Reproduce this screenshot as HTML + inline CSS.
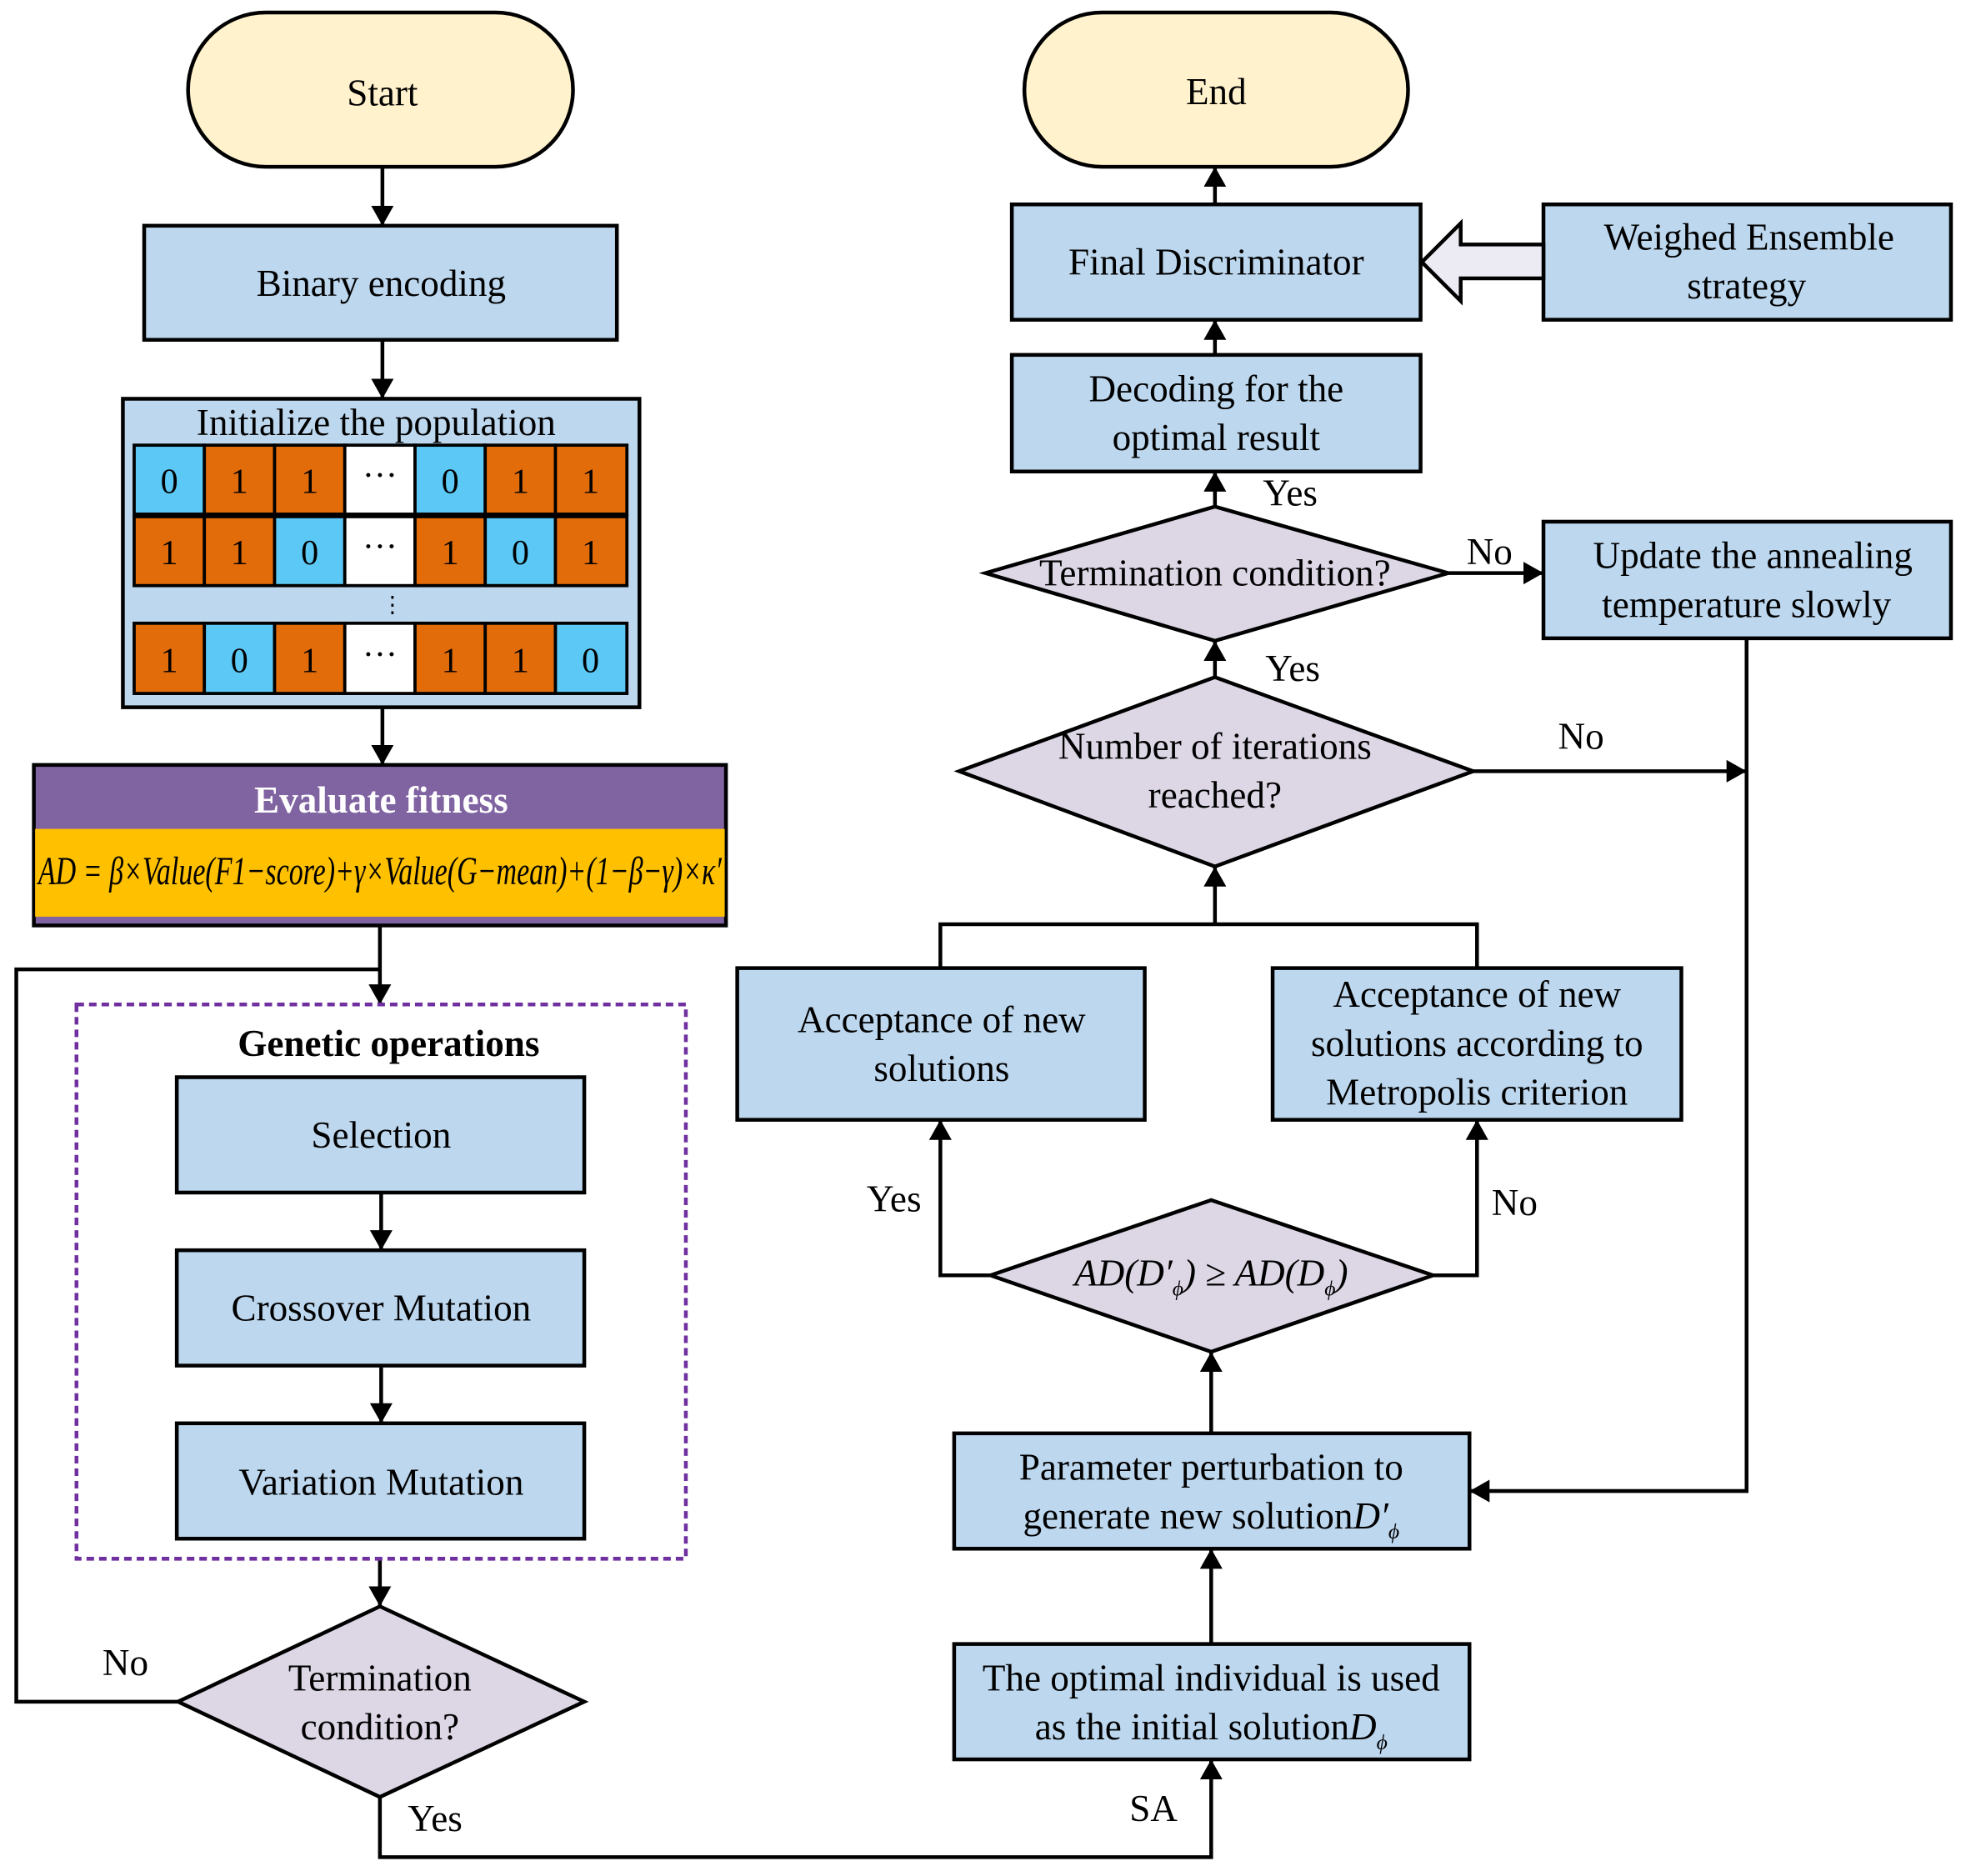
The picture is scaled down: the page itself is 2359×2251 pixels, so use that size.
<!DOCTYPE html>
<html><head><meta charset="utf-8"><style>
html,body{margin:0;padding:0;background:#fff}
svg{display:block}
text{font-family:"Liberation Serif",serif;fill:#000}
</style></head><body>
<svg width="2359" height="2251" viewBox="0 0 1568 1496" preserveAspectRatio="none" xmlns="http://www.w3.org/2000/svg">
<defs>
<marker id="b" markerWidth="16" markerHeight="18" refX="16" refY="9" orient="auto" markerUnits="userSpaceOnUse"><path d="M0,0 L16,9 L0,18 z" fill="#000"/></marker>
</defs>
<g stroke="#000" stroke-width="3" fill="none">
<line x1="305" y1="133" x2="305" y2="180" marker-end="url(#b)"/>
<line x1="305" y1="271" x2="305" y2="318" marker-end="url(#b)"/>
<line x1="305" y1="564" x2="305" y2="610" marker-end="url(#b)"/>
<line x1="303" y1="738" x2="303" y2="801" marker-end="url(#b)"/>
<polyline points="142,1357 13,1357 13,773 303,773"/>
<line x1="304" y1="951" x2="304" y2="997" marker-end="url(#b)"/>
<line x1="304" y1="1089" x2="304" y2="1135" marker-end="url(#b)"/>
<line x1="303" y1="1243" x2="303" y2="1281" marker-end="url(#b)"/>
<polyline points="303,1433 303,1481 966,1481 966,1403" marker-end="url(#b)"/>
<line x1="966" y1="1311" x2="966" y2="1235" marker-end="url(#b)"/>
<line x1="966" y1="1143" x2="966" y2="1078" marker-end="url(#b)"/>
<polyline points="790,1017 750,1017 750,893" marker-end="url(#b)"/>
<polyline points="1143,1017 1178,1017 1178,893" marker-end="url(#b)"/>
<polyline points="750,772 750,737 1178,737 1178,772"/>
<line x1="969" y1="737" x2="969" y2="691" marker-end="url(#b)"/>
<line x1="1175" y1="615" x2="1393" y2="615" marker-end="url(#b)"/>
<polyline points="1393,509 1393,1189 1172,1189" marker-end="url(#b)"/>
<line x1="969" y1="540" x2="969" y2="511" marker-end="url(#b)"/>
<line x1="1155" y1="457" x2="1231" y2="457" marker-end="url(#b)"/>
<line x1="969" y1="404" x2="969" y2="376" marker-end="url(#b)"/>
<line x1="969" y1="283" x2="969" y2="255" marker-end="url(#b)"/>
<line x1="969" y1="163" x2="969" y2="133" marker-end="url(#b)"/>
</g>
<g stroke="#000" stroke-width="3">
<rect x="150" y="10" width="307" height="123" rx="62" fill="#fff2cc"/>
<rect x="817" y="10" width="306" height="123" rx="62" fill="#fff2cc"/>
<rect x="115" y="180" width="377" height="91" fill="#bdd7ee"/>
<rect x="98" y="318" width="412" height="246" fill="#bdd7ee"/>
<rect x="27" y="610" width="552" height="128" fill="#8064a2"/>
<rect x="141" y="859" width="325" height="92" fill="#bdd7ee"/>
<rect x="141" y="997" width="325" height="92" fill="#bdd7ee"/>
<rect x="141" y="1135" width="325" height="92" fill="#bdd7ee"/>
<polygon points="142,1357 303,1281 466,1357 303,1433" fill="#dcd6e5"/>
<rect x="761" y="1311" width="411" height="92" fill="#bdd7ee"/>
<rect x="761" y="1143" width="411" height="92" fill="#bdd7ee"/>
<polygon points="790,1017 966,957 1143,1017 966,1078" fill="#dcd6e5"/>
<rect x="588" y="772" width="325" height="121" fill="#bdd7ee"/>
<rect x="1015" y="772" width="326" height="121" fill="#bdd7ee"/>
<polygon points="765,615 969,540 1175,615 969,691" fill="#dcd6e5"/>
<polygon points="786,457 969,404 1155,457 969,511" fill="#dcd6e5"/>
<rect x="1231" y="416" width="325" height="93" fill="#bdd7ee"/>
<rect x="807" y="283" width="326" height="93" fill="#bdd7ee"/>
<rect x="807" y="163" width="326" height="92" fill="#bdd7ee"/>
<rect x="1231" y="163" width="325" height="92" fill="#bdd7ee"/>
<polygon points="1231,195 1165,195 1165,178 1134,209 1165,240 1165,222 1231,222" fill="#ecebf3"/>
</g>
<rect x="28" y="661" width="550" height="70" fill="#ffc000"/>
<rect x="61" y="801" width="486" height="442" fill="none" stroke="#7030a0" stroke-width="3" stroke-dasharray="6,4"/>
<g stroke="#000" stroke-width="2.5">
<rect x="107" y="355" width="56" height="55" fill="#5bc8f5"/><rect x="163" y="355" width="56" height="55" fill="#e36c0a"/><rect x="219" y="355" width="56" height="55" fill="#e36c0a"/><rect x="275" y="355" width="56" height="55" fill="#fff"/><rect x="331" y="355" width="56" height="55" fill="#5bc8f5"/><rect x="387" y="355" width="56" height="55" fill="#e36c0a"/><rect x="443" y="355" width="57" height="55" fill="#e36c0a"/>
<rect x="107" y="412" width="56" height="55" fill="#e36c0a"/><rect x="163" y="412" width="56" height="55" fill="#e36c0a"/><rect x="219" y="412" width="56" height="55" fill="#5bc8f5"/><rect x="275" y="412" width="56" height="55" fill="#fff"/><rect x="331" y="412" width="56" height="55" fill="#e36c0a"/><rect x="387" y="412" width="56" height="55" fill="#5bc8f5"/><rect x="443" y="412" width="57" height="55" fill="#e36c0a"/>
<rect x="107" y="497" width="56" height="56" fill="#e36c0a"/><rect x="163" y="497" width="56" height="56" fill="#5bc8f5"/><rect x="219" y="497" width="56" height="56" fill="#e36c0a"/><rect x="275" y="497" width="56" height="56" fill="#fff"/><rect x="331" y="497" width="56" height="56" fill="#e36c0a"/><rect x="387" y="497" width="56" height="56" fill="#e36c0a"/><rect x="443" y="497" width="57" height="56" fill="#5bc8f5"/>
</g>
<g font-size="28" text-anchor="middle">
<text x="135" y="393">0</text><text x="191" y="393">1</text><text x="247" y="393">1</text><text x="303" y="388">···</text><text x="359" y="393">0</text><text x="415" y="393">1</text><text x="471" y="393">1</text>
<text x="135" y="450">1</text><text x="191" y="450">1</text><text x="247" y="450">0</text><text x="303" y="445">···</text><text x="359" y="450">1</text><text x="415" y="450">0</text><text x="471" y="450">1</text>
<text x="135" y="536">1</text><text x="191" y="536">0</text><text x="247" y="536">1</text><text x="303" y="531">···</text><text x="359" y="536">1</text><text x="415" y="536">1</text><text x="471" y="536">0</text>
<text x="313" y="488" font-size="18">⋮</text>
</g>
<g font-size="30" text-anchor="middle">
<text x="305" y="84">Start</text>
<text x="970" y="83">End</text>
<text x="304" y="236">Binary encoding</text>
<text x="300" y="347">Initialize the population</text>
<text x="304" y="648" font-weight="bold" style="fill:#fff">Evaluate fitness</text>
<text x="303" y="705" font-style="italic" font-size="32" textLength="545" lengthAdjust="spacingAndGlyphs">AD = β×Value(F1−score)+γ×Value(G−mean)+(1−β−γ)×κ′</text>
<text x="310" y="842" font-weight="bold">Genetic operations</text>
<text x="304" y="915">Selection</text>
<text x="304" y="1053">Crossover Mutation</text>
<text x="304" y="1192">Variation Mutation</text>
<text x="303" y="1348">Termination</text>
<text x="303" y="1387">condition?</text>
<text x="100" y="1336">No</text>
<text x="347" y="1460">Yes</text>
<text x="920" y="1452">SA</text>
<text x="966" y="1348">The optimal individual is used</text>
<text x="966" y="1387">as the initial solution<tspan font-style="italic">D</tspan><tspan font-style="italic" font-size="17" dy="8">ϕ</tspan></text>
<text x="966" y="1180">Parameter perturbation to</text>
<text x="966" y="1219">generate new solution<tspan font-style="italic">D′</tspan><tspan font-style="italic" font-size="17" dy="8">ϕ</tspan></text>
<text x="966" y="1025" font-style="italic">AD(D′<tspan font-size="17" dy="8">ϕ</tspan><tspan dy="-8">) ≥ AD(D</tspan><tspan font-size="17" dy="8">ϕ</tspan><tspan dy="-8">)</tspan></text>
<text x="713" y="966">Yes</text>
<text x="1208" y="969">No</text>
<text x="751" y="823">Acceptance of new</text>
<text x="751" y="862">solutions</text>
<text x="1178" y="803">Acceptance of new</text>
<text x="1178" y="842">solutions according to</text>
<text x="1178" y="881">Metropolis criterion</text>
<text x="969" y="605">Number of iterations</text>
<text x="969" y="644">reached?</text>
<text x="1261" y="597">No</text>
<text x="1031" y="543">Yes</text>
<text x="969" y="467">Termination condition?</text>
<text x="1188" y="450">No</text>
<text x="1398" y="453">Update the annealing</text>
<text x="1393" y="492">temperature slowly</text>
<text x="1029" y="403">Yes</text>
<text x="970" y="320">Decoding for the</text>
<text x="970" y="359">optimal result</text>
<text x="970" y="219">Final Discriminator</text>
<text x="1395" y="199">Weighed Ensemble</text>
<text x="1393" y="238">strategy</text>
</g>
</svg>
</body></html>
